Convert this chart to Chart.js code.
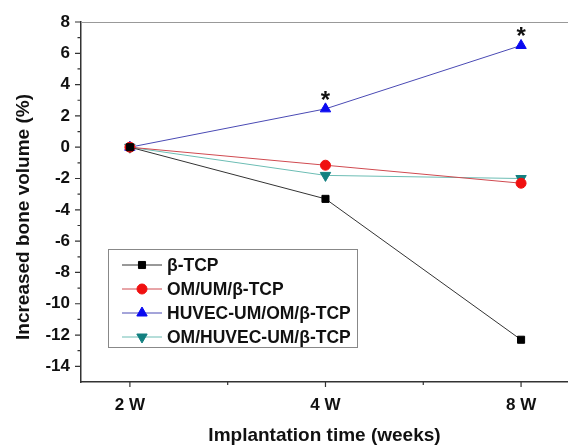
<!DOCTYPE html>
<html>
<head>
<meta charset="utf-8">
<script src="https://cdn.jsdelivr.net/npm/chart.js@4.4.1/dist/chart.umd.min.js"></script>
<style>
  html, body { margin: 0; padding: 0; background: #fff; }
  #wrap { width: 568px; height: 447px; }
</style>
</head>
<body>
<div id="wrap"><canvas id="chart" width="568" height="447"></canvas></div>
<script>
// ===== dados do gráfico =====
const weekLabels = ["2 W", "4 W", "8 W"];
const seriesNames = ["β-TCP", "OM/UM/β-TCP", "HUVEC-UM/OM/β-TCP", "OM/HUVEC-UM/β-TCP"];
const tcpValues = [0, -3.3, -12.3];
const omUmValues = [0, -1.15, -2.3];
const huvecOmValues = [0, 2.45, 6.5];
const omHuvecValues = [0, -1.8, -2.0];
const yTickValues = [8, 6, 4, 2, 0, -2, -4, -6, -8, -10, -12, -14];
const starIndexes = [1, 2]; // pontos marcados com * (série HUVEC)
const yTitle = "Increased bone volume (%)";

const FONT = "'Liberation Sans', Arial, sans-serif";
const AXIS_COLOR = "#333";

function toPoints(values) {
  return values.map((v, i) => ({ x: i, y: v }));
}

// ===== plugins =====
// ticks maiores e menores desenhados a partir das escalas
const tickMarks = {
  id: "tickMarks",
  afterDraw(chart) {
    const { ctx, scales: { x, y } } = chart;
    ctx.save();
    ctx.strokeStyle = AXIS_COLOR;
    ctx.lineWidth = 1.2;
    ctx.beginPath();
    for (let i = 0; i < weekLabels.length; i++) {
      const px = x.getPixelForValue(i);
      ctx.moveTo(px, x.top); ctx.lineTo(px, x.top + 5);
      if (i < weekLabels.length - 1) {
        const mx = x.getPixelForValue(i + 0.5);
        ctx.moveTo(mx, x.top); ctx.lineTo(mx, x.top + 3);
      }
    }
    yTickValues.forEach((v) => {
      const py = y.getPixelForValue(v);
      ctx.moveTo(y.right, py); ctx.lineTo(y.right - 6, py);
      if (v < y.max) {
        const my = y.getPixelForValue(v + 1);
        ctx.moveTo(y.right, my); ctx.lineTo(y.right - 3.5, my);
      }
    });
    ctx.stroke();
    // borda superior cinza
    const area = chart.chartArea;
    ctx.strokeStyle = "#999";
    ctx.lineWidth = 1;
    ctx.beginPath();
    ctx.moveTo(area.left, area.top + 0.5);
    ctx.lineTo(area.right, area.top + 0.5);
    ctx.stroke();
    // título do eixo y (um pouco abaixo do centro, como no original)
    ctx.fillStyle = "#111";
    ctx.font = `bold 19px ${FONT}`;
    ctx.textAlign = "center";
    ctx.textBaseline = "middle";
    ctx.translate(24, 217);
    ctx.rotate(-Math.PI / 2);
    ctx.fillText(yTitle, 0, 0);
    ctx.restore();
  },
};

// asteriscos sobre a série HUVEC
const stars = {
  id: "stars",
  afterDatasetsDraw(chart) {
    const meta = chart.getDatasetMeta(2);
    const ctx = chart.ctx;
    ctx.save();
    ctx.fillStyle = "#111";
    ctx.font = `bold 24px ${FONT}`;
    ctx.textAlign = "center";
    ctx.textBaseline = "alphabetic";
    starIndexes.forEach((i) => {
      const p = meta.data[i];
      ctx.fillText("*", p.x, p.y - 1);
    });
    ctx.restore();
  },
};

// legenda dentro da área do gráfico
const boxLegend = {
  id: "boxLegend",
  afterDraw(chart) {
    const ctx = chart.ctx;
    const left = 108, top = 249, w = 249, h = 98, row = 24;
    ctx.save();
    ctx.strokeStyle = "#888";
    ctx.lineWidth = 1;
    ctx.strokeRect(left + 0.5, top + 0.5, w, h);
    chart.data.datasets.forEach((ds, i) => {
      const cy = top + 16 + i * row;
      ctx.strokeStyle = ds.borderColor;
      ctx.lineWidth = 1;
      ctx.beginPath();
      ctx.moveTo(left + 14, cy);
      ctx.lineTo(left + 54, cy);
      ctx.stroke();
      ctx.fillStyle = ds.pointBackgroundColor;
      ctx.strokeStyle = ds.pointBackgroundColor;
      Chart.helpers.drawPoint(ctx, {
        pointStyle: ds.pointStyle,
        rotation: ds.pointRotation || 0,
        radius: ds.pointRadius,
        borderWidth: 1,
      }, left + 34, cy);
      ctx.fillStyle = "#111";
      ctx.font = `bold 17.5px ${FONT}`;
      ctx.textBaseline = "middle";
      ctx.textAlign = "left";
      ctx.fillText(ds.label, left + 59, cy + 1);
    });
    ctx.restore();
  },
};

// ===== gráfico =====
new Chart(document.getElementById("chart"), {
  type: "line",
  data: {
    datasets: [
      {
        label: seriesNames[0],
        data: toPoints(tcpValues),
        borderColor: "#333",
        borderWidth: 1,
        pointStyle: "rect",
        pointRadius: 5,
        pointBackgroundColor: "#000",
        pointBorderColor: "#000",
      },
      {
        label: seriesNames[1],
        data: toPoints(omUmValues),
        borderColor: "#d04a50",
        borderWidth: 1,
        pointStyle: "circle",
        pointRadius: 5,
        pointBackgroundColor: "#f01010",
        pointBorderColor: "#f01010",
      },
      {
        label: seriesNames[2],
        data: toPoints(huvecOmValues),
        borderColor: "#4a4ab4",
        borderWidth: 1,
        pointStyle: "triangle",
        pointRadius: 6,
        pointBackgroundColor: "#0a0af0",
        pointBorderColor: "#0a0af0",
      },
      {
        label: seriesNames[3],
        data: toPoints(omHuvecValues),
        borderColor: "#6cbdb4",
        borderWidth: 1,
        pointStyle: "triangle",
        pointRotation: 180,
        pointRadius: 6,
        pointBackgroundColor: "#128080",
        pointBorderColor: "#128080",
      },
    ],
  },
  options: {
    responsive: false,
    animation: false,
    layout: { autoPadding: false, padding: { top: 22, right: 0, left: 0, bottom: 0 } },
    plugins: { legend: { display: false }, tooltip: { enabled: false } },
    scales: {
      x: {
        type: "linear",
        min: -0.25,
        max: 2.24,
        afterBuildTicks: (s) => { s.ticks = weekLabels.map((_, i) => ({ value: i })); },
        afterFit: (s) => {
          s.height = 65;
          s.paddingLeft = 0;
          s.paddingRight = 0;
        },
        grid: { display: false, drawTicks: false },
        border: { display: true, color: AXIS_COLOR, width: 1.5 },
        ticks: {
          callback: (v) => weekLabels[v],
          autoSkip: false,
          maxRotation: 0,
          padding: 13,
          color: "#111",
          font: { family: FONT, size: 17, weight: "bold" },
        },
        title: {
          display: true,
          text: "Implantation time (weeks)",
          color: "#111",
          font: { family: FONT, size: 19, weight: "bold" },
          padding: { top: 0, bottom: 0 },
        },
      },
      y: {
        min: -15,
        max: 8,
        afterBuildTicks: (s) => { s.ticks = yTickValues.map((v) => ({ value: v })); },
        afterFit: (s) => { s.width = 81; },
        grid: { display: false, drawTicks: false },
        border: { display: true, color: AXIS_COLOR, width: 1.5 },
        ticks: {
          padding: 11,
          color: "#111",
          font: { family: FONT, size: 17, weight: "bold" },
        },
      },
    },
  },
  plugins: [tickMarks, stars, boxLegend],
});
</script>
</body>
</html>
